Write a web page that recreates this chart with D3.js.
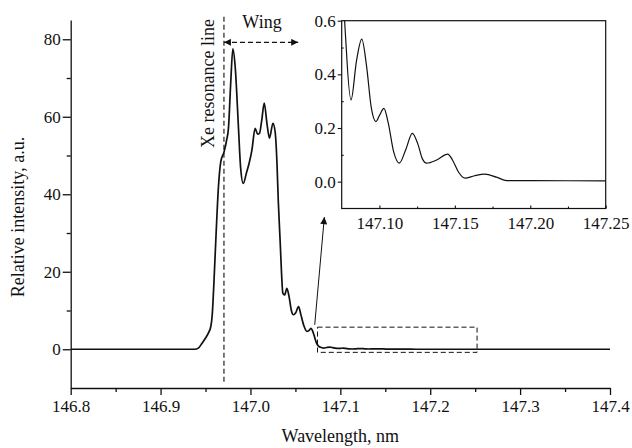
<!DOCTYPE html>
<html>
<head>
<meta charset="utf-8">
<script src="https://cdn.jsdelivr.net/npm/d3@7/dist/d3.min.js"></script>
<style>
  html, body { margin: 0; padding: 0; background: #fff; }
  svg { display: block; }
  text { font-family: "Liberation Serif", "Times New Roman", serif; fill: #111; }
</style>
</head>
<body>
<svg id="chart" width="632" height="448"></svg>
<script>
// ---- data (wavelength, nm) ----
const wavelength = [
  146.80, 146.90, 146.938, 146.942, 146.946, 146.950, 146.953, 146.956, 146.9575, 146.9595,
  146.9618, 146.9644, 146.967, 146.9707, 146.9735, 146.9755, 146.978, 146.9804, 146.983, 146.9866,
  146.989, 146.992, 146.9955, 146.9985, 147.0016, 147.0052, 147.008, 147.010, 147.0125, 147.0153,
  147.0185, 147.0212, 147.025, 147.0275, 147.0295, 147.031, 147.033, 147.0345, 147.036, 147.038,
  147.0405, 147.043, 147.0455, 147.0479, 147.0505, 147.0535, 147.056, 147.0595, 147.0628, 147.065,
  147.0673, 147.0695, 147.0715, 147.0735, 147.0757, 147.078, 147.0812, 147.0848, 147.0883, 147.0915,
  147.0945, 147.0977, 147.1003, 147.103, 147.1058, 147.1095, 147.1132, 147.1175, 147.1218, 147.1255,
  147.1285, 147.1313, 147.138, 147.1453, 147.1485, 147.1525, 147.1567, 147.163, 147.170, 147.1775,
  147.1844, 147.20, 147.25, 147.30, 147.40
];
// relative intensity, a.u.
const intensity = [
  0, 0, 0, 0.3, 1.5, 2.9, 4.1, 6.0, 9, 18,
  30, 42, 48.4, 51, 54, 57, 68.6, 77.5, 72.9, 57.4,
  47, 42.8, 45.5, 48, 51.4, 57, 55.5, 55.7, 59, 63.5,
  58, 54.5, 58.3, 56, 48, 38, 28, 20, 14.5, 14.0,
  15.7, 13.5, 10, 8.9, 9.5, 11, 9, 6, 4.6, 4.8,
  5.4, 4.5, 3, 1.6, 0.8, 0.5, 0.305, 0.45, 0.531, 0.43,
  0.28, 0.224, 0.25, 0.273, 0.22, 0.11, 0.069, 0.12, 0.180, 0.14,
  0.085, 0.069, 0.081, 0.103, 0.08, 0.035, 0.013, 0.022, 0.028, 0.017,
  0.004, 0.004, 0.003, 0.003, 0.003
];
const mainXTicks = [146.8, 146.9, 147.0, 147.1, 147.2, 147.3, 147.4];
const mainXMinor = [146.85, 146.95, 147.05, 147.15, 147.25, 147.35];
const mainYTicks = [0, 20, 40, 60, 80];
const mainYMinor = [10, 30, 50, 70];
const insetXTicks = [147.10, 147.15, 147.20, 147.25];
const insetXMinor = [147.125, 147.175, 147.225];
const insetYTicks = [0.0, 0.2, 0.4, 0.6];
const insetYMinor = [0.1, 0.3, 0.5];

const xeLine = 146.9705;          // Xe resonance line position
const wingEnd = 147.0531;         // wing arrow end
const wingY = 79.2;
const zoomBox = {x0: 147.0746, x1: 147.2521, y0: -0.8, y1: 5.7};
const zoomArrow = {x0: 147.0715, y0: 6.3, x1: 147.0822, y1: 34.1};

const data = wavelength.map((w, i) => ({w, v: intensity[i]}));

const svg = d3.select("#chart");
const FS = 17;
const SERIF = '"Liberation Serif", "Times New Roman", serif';

// ---- main scales ----
const x = d3.scaleLinear().domain([146.8, 147.4]).range([70.7, 610]);
const y = d3.scaleLinear().domain([-10, 85]).range([388, 19.9]);

svg.append("defs").html(`
  <marker id="ah" viewBox="0 0 10 10" refX="10" refY="5" markerWidth="8" markerHeight="7" markerUnits="userSpaceOnUse" orient="auto-start-reverse">
    <path d="M0,0 L10,5 L0,10 Z" fill="#111"/>
  </marker>
  <clipPath id="insetClip"><rect x="341.7" y="20.7" width="264" height="187.8"/></clipPath>
`);

function styleAxis(g, sw) {
  g.attr("font-family", SERIF).attr("font-size", FS);
  g.selectAll("path").attr("stroke", "#111").attr("stroke-width", sw);
  g.selectAll("line").attr("stroke", "#111").attr("stroke-width", sw);
  g.selectAll("text").attr("font-family", SERIF).style("font-family", SERIF)
    .style("font-size", FS + "px").attr("fill", "#111");
}

// main x axis
const gx = svg.append("g").attr("transform", `translate(0,${y(-10)})`)
  .call(d3.axisBottom(x).tickValues(mainXTicks).tickFormat(d3.format(".1f")).tickSize(7).tickSizeOuter(0).tickPadding(5));
styleAxis(gx, 1.3);
const gxm = svg.append("g").attr("transform", `translate(0,${y(-10)})`)
  .call(d3.axisBottom(x).tickValues(mainXMinor).tickFormat("").tickSize(4).tickSizeOuter(0));
styleAxis(gxm, 1.3); gxm.select("path").remove();

// main y axis
const gy = svg.append("g").attr("transform", `translate(${x(146.8)},0)`)
  .call(d3.axisLeft(y).tickValues(mainYTicks).tickFormat(d3.format("d")).tickSize(8).tickSizeOuter(0).tickPadding(2));
styleAxis(gy, 1.3);
const gym = svg.append("g").attr("transform", `translate(${x(146.8)},0)`)
  .call(d3.axisLeft(y).tickValues(mainYMinor).tickFormat("").tickSize(4).tickSizeOuter(0));
styleAxis(gym, 1.3); gym.select("path").remove();

// axis titles
svg.append("text").attr("x", (x.range()[0] + x.range()[1]) / 2).attr("y", 442)
  .attr("text-anchor", "middle").style("font-size", "18px").text("Wavelength, nm");
svg.append("text").attr("transform", `translate(24,${217}) rotate(-90)`)
  .attr("text-anchor", "middle").style("font-size", "18px").text("Relative intensity, a.u.");

// main curve
const line = d3.line().x(d => x(d.w)).y(d => y(d.v)).curve(d3.curveMonotoneX);
svg.append("path").datum(data).attr("d", line)
  .attr("fill", "none").attr("stroke", "#111").attr("stroke-width", 1.7).attr("stroke-linejoin", "round");

// Xe resonance line
svg.append("line").attr("x1", x(xeLine)).attr("x2", x(xeLine)).attr("y1", 16.7).attr("y2", 383)
  .attr("stroke", "#111").attr("stroke-width", 1.1).attr("stroke-dasharray", "5,3");
svg.append("text").attr("transform", `translate(214,83.5) rotate(-90)`)
  .attr("text-anchor", "middle").style("font-size", "18px").text("Xe resonance line");

// Wing arrow
svg.append("line").attr("x1", x(xeLine)).attr("x2", x(wingEnd)).attr("y1", y(wingY)).attr("y2", y(wingY))
  .attr("stroke", "#111").attr("stroke-width", 1.1).attr("stroke-dasharray", "5,3")
  .attr("marker-start", "url(#ah)").attr("marker-end", "url(#ah)");
svg.append("text").attr("x", 262).attr("y", 27.5).attr("text-anchor", "middle")
  .style("font-size", "18px").text("Wing");

// zoom box
svg.append("rect").attr("x", x(zoomBox.x0)).attr("y", y(zoomBox.y1))
  .attr("width", x(zoomBox.x1) - x(zoomBox.x0)).attr("height", y(zoomBox.y0) - y(zoomBox.y1))
  .attr("fill", "none").attr("stroke", "#111").attr("stroke-width", 1).attr("stroke-dasharray", "5,3");
svg.append("line").attr("x1", x(zoomArrow.x0)).attr("y1", y(zoomArrow.y0))
  .attr("x2", x(zoomArrow.x1)).attr("y2", y(zoomArrow.y1))
  .attr("stroke", "#111").attr("stroke-width", 1).attr("marker-end", "url(#ah)");

// ---- inset ----
const ix = d3.scaleLinear().domain([147.075, 147.25]).range([341.7, 605.7]);
const iy = d3.scaleLinear().domain([-0.1, 0.6]).range([208.5, 20.7]);

svg.append("rect").attr("x", ix.range()[0]).attr("y", iy.range()[1])
  .attr("width", ix.range()[1] - ix.range()[0]).attr("height", iy.range()[0] - iy.range()[1])
  .attr("fill", "#fff").attr("stroke", "#111").attr("stroke-width", 1.2);

const igx = svg.append("g").attr("transform", `translate(0,${iy(-0.1)})`)
  .call(d3.axisBottom(ix).tickValues(insetXTicks).tickFormat(d3.format(".2f")).tickSize(-3).tickSizeOuter(0).tickPadding(8));
styleAxis(igx, 1.1); igx.select("path").remove();
const igxm = svg.append("g").attr("transform", `translate(0,${iy(-0.1)})`)
  .call(d3.axisBottom(ix).tickValues(insetXMinor).tickFormat("").tickSize(-2).tickSizeOuter(0));
styleAxis(igxm, 1.1); igxm.select("path").remove();

const igy = svg.append("g").attr("transform", `translate(${ix(147.075)},0)`)
  .call(d3.axisLeft(iy).tickValues(insetYTicks).tickFormat(d3.format(".1f")).tickSize(4).tickSizeOuter(0).tickPadding(2));
styleAxis(igy, 1.1); igy.select("path").remove();
const igym = svg.append("g").attr("transform", `translate(${ix(147.075)},0)`)
  .call(d3.axisLeft(iy).tickValues(insetYMinor).tickFormat("").tickSize(-2).tickSizeOuter(0));
styleAxis(igym, 1.1); igym.select("path").remove();

const iline = d3.line().x(d => ix(d.w)).y(d => iy(d.v)).curve(d3.curveMonotoneX);
svg.append("path").datum(data.filter(d => d.w >= 147.06 && d.w <= 147.30)).attr("d", iline)
  .attr("clip-path", "url(#insetClip)")
  .attr("fill", "none").attr("stroke", "#111").attr("stroke-width", 1.2);
</script>
</body>
</html>
